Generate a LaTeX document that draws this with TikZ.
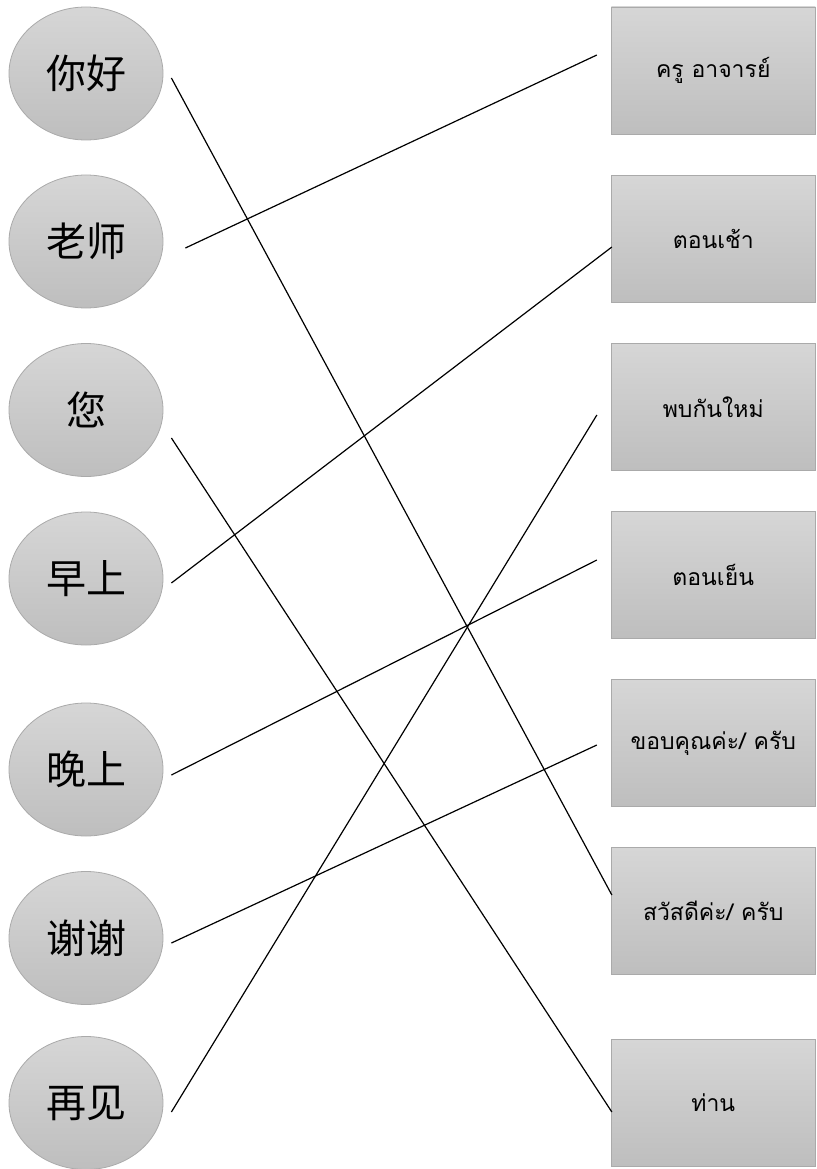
\documentclass[tikz,border=0pt]{standalone}
\usepackage{fontspec}
\newfontfamily\zhfont{Noto Sans CJK SC}
\newfontfamily\thaifont[Script=Thai]{Loma}
\usepackage{tikz}
\usetikzlibrary{shapes.geometric}

\definecolor{boxtop}{RGB}{214,214,214}
\definecolor{boxbot}{RGB}{190,190,190}
\definecolor{boxline}{RGB}{170,170,170}

\tikzset{
  word/.style={ellipse, draw=boxline, line width=0.8pt, top color=boxtop, bottom color=boxbot,
    minimum width=154pt, minimum height=133pt, inner sep=0pt,
    font=\zhfont\fontsize{40}{42}\selectfont},
  meaning/.style={rectangle, draw=boxline, line width=0.8pt, top color=boxtop, bottom color=boxbot,
    minimum width=204pt, minimum height=127pt, inner sep=0pt,
    font=\thaifont\fontsize{23}{26}\selectfont},
  pair/.style={line width=1.2pt}
}

\begin{document}
\begin{tikzpicture}[x=1pt, y=-1pt]
  \useasboundingbox (0,0) rectangle (816,1169);

  % chinese words
  \node[word] (nihao)  at (86,73.5)  {你好};
  \node[word] (laoshi) at (86,241.5) {老师};
  \node[word] (nin)    at (86,410)   {您};
  \node[word] (zaoshang) at (86,578.5) {早上};
  \node[word] (wanshang) at (86,769.5) {晚上};
  \node[word] (xiexie) at (86,938)   {谢谢};
  \node[word] (zaijian) at (86,1103) {再见};

  % thai meanings
  \node[meaning] (khru)    at (713.25,70.5) {ครู อาจารย์};
  \node[meaning] (chao)    at (713.25,239)  {ตอนเช้า};
  \node[meaning] (phopkan) at (713.25,407)  {พบกันใหม่};
  \node[meaning] (yen)     at (713.25,575)  {ตอนเย็น};
  \node[meaning] (khopkhun) at (713.25,743) {ขอบคุณค่ะ/ ครับ};
  \node[meaning] (sawatdi) at (713.25,911)  {สวัสดีค่ะ/ ครับ};
  \node[meaning] (than)    at (713.25,1103) {ท่าน};

  \path[pair]
  ([xshift=8pt,yshift=-4.5pt]nihao.east) edge ([xshift=1pt,yshift=16pt]sawatdi.west)
  ([xshift=22pt,yshift=-6.5pt]laoshi.east) edge ([xshift=-14pt,yshift=15.5pt]khru.west)
  ([xshift=8pt,yshift=-28pt]nin.east) edge ([xshift=1pt,yshift=-9pt]than.west)
  ([xshift=8pt,yshift=-4.5pt]zaoshang.east) edge ([xshift=1pt,yshift=-8pt]chao.west)
  ([xshift=8pt,yshift=-5.5pt]wanshang.east) edge ([xshift=-14pt,yshift=15pt]yen.west)
  ([xshift=8pt,yshift=-5pt]xiexie.east) edge ([xshift=-14pt,yshift=-2pt]khopkhun.west)
  ([xshift=8pt,yshift=-9pt]zaijian.east) edge ([xshift=-14pt,yshift=-8pt]phopkan.west)
;
\end{tikzpicture}
\end{document}
